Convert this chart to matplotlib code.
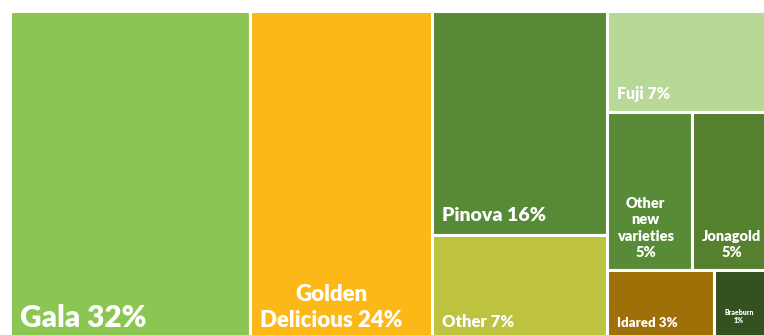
import matplotlib.pyplot as plt
from matplotlib.patches import Rectangle

# apple variety shares (sizes estimated from tile areas, labels as printed)
varieties = ['Gala', 'Golden Delicious', 'Pinova', 'Other', 'Fuji',
             'Other new varieties', 'Jonagold', 'Idared', 'Braeburn']
shares = [31.7, 24.0, 15.7, 7.4, 6.5, 5.4, 4.8, 3.0, 1.5]
labels = ['Gala 32%', 'Golden\nDelicious 24%', 'Pinova 16%', 'Other 7%', 'Fuji 7%',
          'Other\nnew\nvarieties\n5%', 'Jonagold\n5%', 'Idared 3%', 'Braeburn\n1%']

# tile grouping: columns -> rows -> variety indices
layout = [[[0]], [[1]], [[2], [3]], [[4], [5, 6], [7, 8]]]

colors = ['#8bc652', '#fbb817', '#568a37', '#bdc23f', '#b8d897',
          '#588b38', '#55802e', '#a07008', '#33521f']
font_sizes = [21.5, 16, 14, 12, 11.5, 10.5, 10.5, 9.5, 5]

plt.rcParams['font.family'] = ['Lato', 'DejaVu Sans']

W, H = 764, 335
fig = plt.figure(figsize=(W / 100, H / 100), dpi=100)
# chart area is cropped on the right and bottom in the reference
ax = fig.add_axes([10 / W, -5 / H, 758 / W, 329 / H])
ax.set_xlim(0, 1)
ax.set_ylim(1, 0)
ax.axis('off')

total = sum(shares)
x = 0.0
for col in layout:
    col_sum = sum(shares[i] for row in col for i in row)
    w = col_sum / total
    y = 0.0
    for row in col:
        row_sum = sum(shares[i] for i in row)
        h = row_sum / col_sum
        cx = x
        for i in row:
            cw = w * shares[i] / row_sum
            ax.add_patch(Rectangle((cx, y), cw, h, facecolor=colors[i],
                                   edgecolor='white', linewidth=2.2))
            pad_y = 12 if i == 8 else 9.5
            ax.annotate(labels[i], xy=(cx, y + h), xytext=(7, pad_y),
                        textcoords='offset points', ha='left', va='baseline',
                        multialignment='center', color='white',
                        fontsize=font_sizes[i], fontweight='heavy',
                        linespacing=1.3)
            cx += cw
        y += h
    x += w

fig.savefig('out.png', dpi=100)
